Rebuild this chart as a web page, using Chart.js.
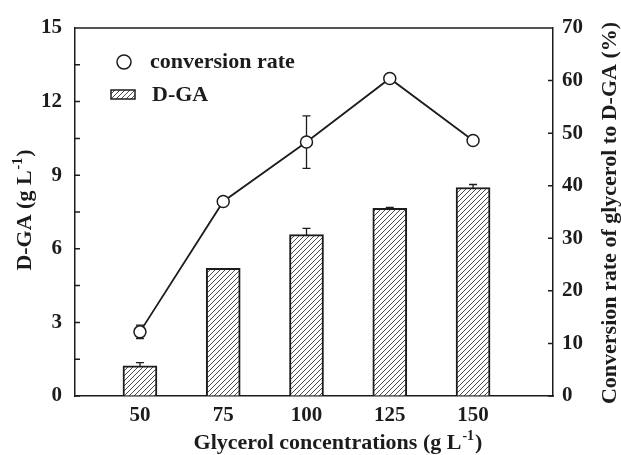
<!DOCTYPE html>
<html>
<head>
<meta charset="utf-8">
<script src="https://cdn.jsdelivr.net/npm/chart.js@4/dist/chart.umd.min.js"></script>
<style>
  body { margin: 0; background: #fff; }
  #wrap { width: 621px; height: 455px; }
</style>
</head>
<body>
<div id="wrap"><canvas id="chart"></canvas></div>
<script>
const glycerol = [50, 75, 100, 125, 150]
const dgaValues = [1.23, 5.2, 6.58, 7.65, 8.5]
const dgaErrors = [0.13, 0, 0.25, 0.04, 0.12]
const conversionValues = [12.2, 37.0, 48.3, 60.4, 48.6]
const conversionErrors = [1.3, 0.5, 5.0, 0.5, 0]
const leftTicks = [0, 3, 6, 9, 12, 15]
const rightTicks = [0, 10, 20, 30, 40, 50, 60, 70]

const FONT = "bold 22px 'Liberation Serif', 'Times New Roman', serif"
const SUP_FONT = "bold 14px 'Liberation Serif', 'Times New Roman', serif"
const TICK_FONT = { family: "'Liberation Serif', serif", size: 21, weight: "bold" }
const INK = "#1c1c1c"

function hatch(size) {
  const c = document.createElement("canvas")
  c.width = size
  c.height = size
  const g = c.getContext("2d")
  g.fillStyle = "#fff"
  g.fillRect(0, 0, size, size)
  g.strokeStyle = "#4a4a4a"
  g.lineWidth = 1
  g.beginPath()
  g.moveTo(0, size); g.lineTo(size, 0)
  g.moveTo(-1, 1); g.lineTo(1, -1)
  g.moveTo(size - 1, size + 1); g.lineTo(size + 1, size - 1)
  g.stroke()
  return c
}

// text centred at (0,0) with a raised "-1" in the middle
function supText(c, before, sup, after) {
  c.font = FONT
  const w1 = c.measureText(before).width
  const w3 = c.measureText(after).width
  c.font = SUP_FONT
  const w2 = c.measureText(sup).width
  let x = -(w1 + w2 + w3) / 2
  c.textAlign = "left"
  c.font = FONT
  c.fillText(before, x, 0)
  x += w1
  c.font = SUP_FONT
  c.fillText(sup, x + 1, -7)
  x += w2 + 2
  c.font = FONT
  c.fillText(after, x, 0)
}

const ctx = document.getElementById("chart").getContext("2d")
const hatchPattern = ctx.createPattern(hatch(5), "repeat")

// error bars, drawn before datasets so bars and circles sit on top
const errorBars = {
  id: "errorBars",
  beforeDatasetsDraw(chart) {
    const c = chart.ctx
    c.save()
    c.strokeStyle = INK
    c.lineWidth = 1.3
    chart.data.datasets.forEach((ds, i) => {
      const meta = chart.getDatasetMeta(i)
      const yScale = chart.scales[ds.yAxisID]
      meta.data.forEach((el, j) => {
        const err = ds.errors[j]
        if (!err) return
        const v = ds.data[j].y
        const top = yScale.getPixelForValue(v + err)
        const bot = yScale.getPixelForValue(v - err)
        c.beginPath()
        c.moveTo(el.x, top); c.lineTo(el.x, bot)
        c.moveTo(el.x - 4, top); c.lineTo(el.x + 4, top)
        c.moveTo(el.x - 4, bot); c.lineTo(el.x + 4, bot)
        c.stroke()
      })
    })
    c.restore()
  }
}

// frame, inward tick marks, axis titles and legend
const decorations = {
  id: "decorations",
  afterDraw(chart) {
    const c = chart.ctx
    const a = chart.chartArea
    const y = chart.scales.y
    const y1 = chart.scales.y1
    c.save()
    c.strokeStyle = INK
    c.lineWidth = 1.5
    c.beginPath()
    c.moveTo(a.left, a.top); c.lineTo(a.right, a.top)
    y.ticks.forEach(t => {
      const p = y.getPixelForValue(t.value)
      c.moveTo(a.left, p); c.lineTo(a.left + 5, p)
    })
    y1.ticks.forEach(t => {
      const p = y1.getPixelForValue(t.value)
      c.moveTo(a.right, p); c.lineTo(a.right - 5, p)
    })
    c.stroke()

    c.fillStyle = INK
    c.textBaseline = "middle"

    c.save()
    c.translate(337, 443)
    supText(c, "Glycerol concentrations (g L", "-1", ")")
    c.restore()

    c.save()
    c.translate(25, 211)
    c.rotate(-Math.PI / 2)
    supText(c, "D-GA (g L", "-1", ")")
    c.restore()

    c.save()
    c.translate(610, 213)
    c.rotate(-Math.PI / 2)
    c.font = FONT
    c.textAlign = "center"
    c.fillText("Conversion rate of glycerol to D-GA (%)", 0, 0)
    c.restore()

    // legend
    c.font = FONT
    c.textAlign = "left"
    c.lineWidth = 1.5
    c.beginPath()
    c.arc(124, 62, 7, 0, Math.PI * 2)
    c.fillStyle = "#fff"
    c.fill()
    c.stroke()
    c.fillStyle = hatchPattern
    c.fillRect(111, 90, 24, 9)
    c.strokeRect(111, 90, 24, 9)
    c.fillStyle = INK
    c.fillText("conversion rate", 150, 62)
    c.fillText("D-GA", 152, 95)
    c.restore()
  }
}

new Chart(ctx, {
  data: {
    datasets: [
      {
        type: "line",
        yAxisID: "y1",
        data: glycerol.map((g, i) => ({ x: g, y: conversionValues[i] })),
        errors: conversionErrors,
        borderColor: INK,
        borderWidth: 1.8,
        tension: 0,
        pointRadius: 6,
        pointBorderWidth: 1.5,
        pointBackgroundColor: "#fff",
        pointBorderColor: INK
      },
      {
        type: "bar",
        yAxisID: "y",
        data: glycerol.map((g, i) => ({ x: g, y: dgaValues[i] })),
        errors: dgaErrors,
        backgroundColor: hatchPattern,
        borderColor: INK,
        borderWidth: 2,
        barThickness: 34
      }
    ]
  },
  options: {
    responsive: true,
    maintainAspectRatio: false,
    animation: false,
    layout: { padding: { top: 28, left: 0, right: 0, bottom: 0 } },
    plugins: {
      legend: { display: false },
      tooltip: { enabled: false }
    },
    scales: {
      x: {
        type: "linear",
        offset: false,
        min: 30.5,
        max: 174,
        afterBuildTicks: (scale) => {
          scale.ticks = glycerol.map(v => ({ value: v }))
        },
        afterFit: (scale) => { scale.height = 59 },
        grid: { display: false, drawTicks: false, offset: false },
        border: { display: true, color: INK, width: 1.5 },
        ticks: { padding: 7, color: INK, font: TICK_FONT }
      },
      y: {
        position: "left",
        min: 0,
        max: 15,
        afterBuildTicks: (scale) => {
          const t = []
          for (let v = 0; v <= 15; v += 1.5) t.push({ value: v })
          scale.ticks = t
        },
        afterFit: (scale) => { scale.width = 75 },
        grid: { drawOnChartArea: false, drawTicks: false },
        border: { display: true, color: INK, width: 1.5 },
        ticks: {
          padding: 13,
          color: INK,
          font: TICK_FONT,
          callback: (v) => leftTicks.includes(v) ? v : ""
        }
      },
      y1: {
        position: "right",
        min: 0,
        max: 70,
        afterBuildTicks: (scale) => {
          const t = []
          for (let v = 0; v <= 70; v += 5) t.push({ value: v })
          scale.ticks = t
        },
        afterFit: (scale) => { scale.width = 68 },
        grid: { drawOnChartArea: false, drawTicks: false },
        border: { display: true, color: INK, width: 1.5 },
        ticks: {
          padding: 9,
          color: INK,
          font: TICK_FONT,
          callback: (v) => rightTicks.includes(v) ? v : ""
        }
      }
    }
  },
  plugins: [errorBars, decorations]
})
</script>
</body>
</html>
